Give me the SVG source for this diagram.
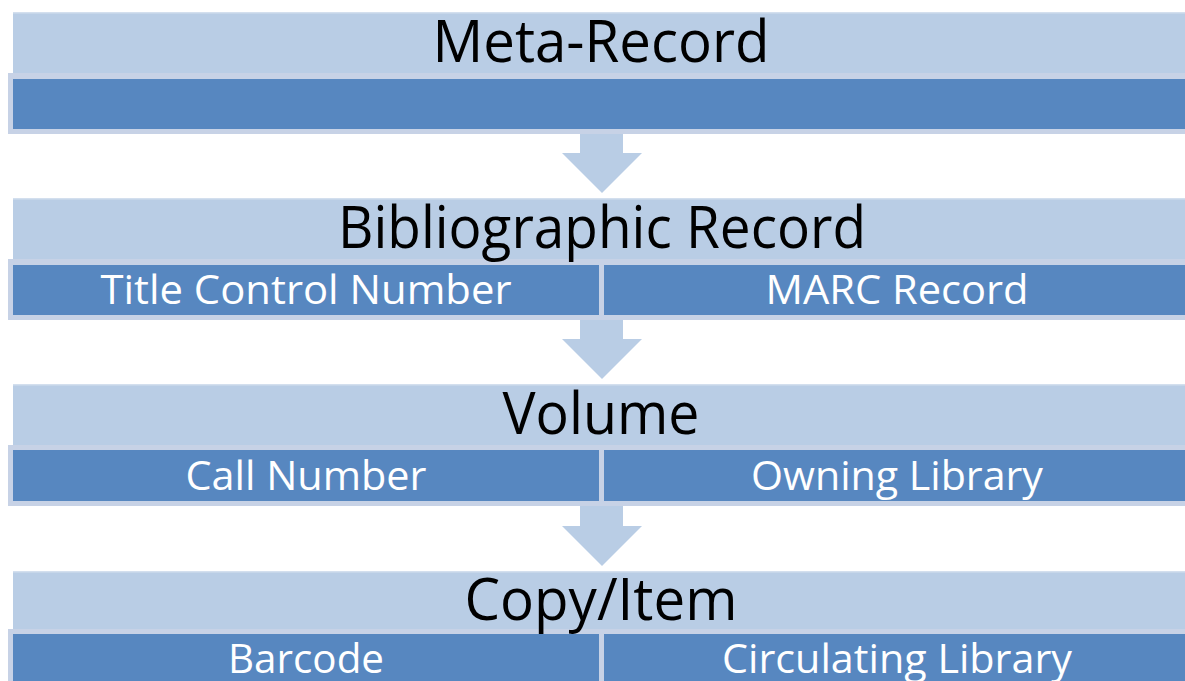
<svg xmlns="http://www.w3.org/2000/svg" width="1185" height="681" viewBox="0 0 1185 681">
  <style>
    .head { fill: #B9CDE5; }
    .headline { fill: #D3DFEE; }
    .halo { fill: #C7D2E6; }
    .cell { fill: #5787C0; }
    .title { font-family: "Open Sans", "Liberation Sans", sans-serif; font-size: 58px; fill: #000000; text-anchor: middle; }
    .label { font-family: "Open Sans", "Liberation Sans", sans-serif; font-size: 40px; fill: #FFFFFF; text-anchor: middle; }
    .arrow { fill: #B9CDE5; }
  </style>

  <!-- Level 1: meta-record, single full-width field band -->
  <g id="meta-record">
    <rect class="head" x="13" y="12" width="1180" height="62"/>
    <rect class="headline" x="13" y="12" width="1180" height="1.5"/>
    <rect class="halo" x="8" y="73" width="1190" height="61"/>
    <rect class="cell" x="13" y="79" width="1180" height="50"/>
    <text class="title" x="601" y="62" textLength="337" lengthAdjust="spacingAndGlyphs">Meta-Record</text>
  </g>

  <!-- Level 2: bibliographic record -->
  <g id="bibliographic-record">
    <rect class="head" x="13" y="198" width="1180" height="62"/>
    <rect class="headline" x="13" y="198" width="1180" height="1.5"/>
    <rect class="halo" x="8" y="259" width="1190" height="61"/>
    <g id="title-control-number">
      <rect class="cell" x="13" y="265" width="586" height="50"/>
      <text class="label" x="306" y="304" textLength="411" lengthAdjust="spacingAndGlyphs">Title Control Number</text>
    </g>
    <g id="marc-record">
      <rect class="cell" x="604" y="265" width="589" height="50"/>
      <text class="label" x="897" y="304" textLength="263" lengthAdjust="spacingAndGlyphs">MARC Record</text>
    </g>
    <text class="title" x="602" y="248" textLength="528" lengthAdjust="spacingAndGlyphs">Bibliographic Record</text>
  </g>

  <!-- Level 3: volume -->
  <g id="volume">
    <rect class="head" x="13" y="384" width="1180" height="62"/>
    <rect class="headline" x="13" y="384" width="1180" height="1.5"/>
    <rect class="halo" x="8" y="445" width="1190" height="61"/>
    <g id="call-number">
      <rect class="cell" x="13" y="450" width="586" height="51"/>
      <text class="label" x="306" y="490" textLength="241" lengthAdjust="spacingAndGlyphs">Call Number</text>
    </g>
    <g id="owning-library">
      <rect class="cell" x="604" y="450" width="589" height="51"/>
      <text class="label" x="897" y="490" textLength="292" lengthAdjust="spacingAndGlyphs">Owning Library</text>
    </g>
    <text class="title" x="601" y="434" textLength="197" lengthAdjust="spacingAndGlyphs">Volume</text>
  </g>

  <!-- Level 4: copy / item -->
  <g id="copy-item">
    <rect class="head" x="13" y="571" width="1180" height="62"/>
    <rect class="headline" x="13" y="571" width="1180" height="1.5"/>
    <rect class="halo" x="8" y="629" width="1190" height="60"/>
    <g id="barcode">
      <rect class="cell" x="13" y="634" width="586" height="55"/>
      <text class="label" x="306" y="673" textLength="156" lengthAdjust="spacingAndGlyphs">Barcode</text>
    </g>
    <g id="circulating-library">
      <rect class="cell" x="604" y="634" width="589" height="55"/>
      <text class="label" x="897" y="673" textLength="350" lengthAdjust="spacingAndGlyphs">Circulating Library</text>
    </g>
    <text class="title" x="601" y="620" textLength="273" lengthAdjust="spacingAndGlyphs">Copy/Item</text>
  </g>

  <!-- Block arrows between levels -->
  <g id="connectors">
    <polygon class="arrow" points="580,134 623,134 623,153 642,153 602,193 562,153 580,153"/>
    <polygon class="arrow" points="580,320 623,320 623,339 642,339 602,379 562,339 580,339"/>
    <polygon class="arrow" points="580,506 623,506 623,526 642,526 602,566 562,526 580,526"/>
  </g>
</svg>
